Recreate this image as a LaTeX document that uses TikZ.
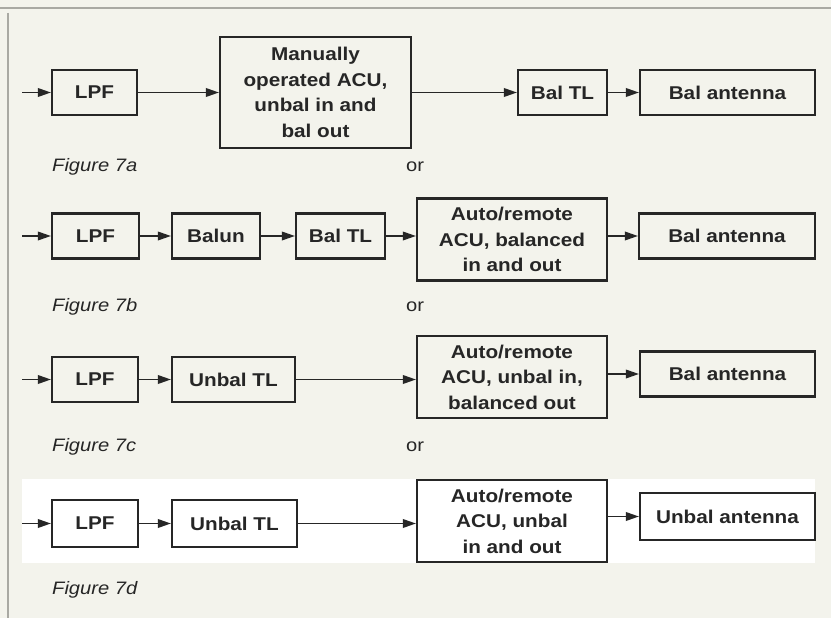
\documentclass[tikz,border=0pt]{standalone}
\usepackage{fontspec}
\usetikzlibrary{arrows.meta}
\newfontfamily\figfont[FakeStretch=1.12]{Liberation Sans}

\definecolor{figpaper}{HTML}{F3F3EC}
\definecolor{figink}{HTML}{262626}
\definecolor{figrule}{HTML}{A9A9A3}

\begin{document}
\begin{tikzpicture}[
  x=1pt, y=-1pt,
  blk/.style={rectangle, draw=figink, line width=2.1pt, fill=none,
              inner sep=0pt, minimum height=45pt, align=center,
              font=\figfont\bfseries\fontsize{18.5}{25.5}\selectfont, text=figink},
  acu/.style={blk, minimum width=190pt, minimum height=82pt},
  arr/.style={draw=figink, line width=1.8pt,
              -{Triangle[length=13pt, width=8.5pt]}},
  figlab/.style={anchor=west, inner sep=0pt, text=figink,
                 font=\figfont\itshape\fontsize{18}{20}\selectfont},
  orlab/.style={anchor=west, inner sep=0pt, text=figink,
                font=\figfont\fontsize{18}{20}\selectfont}]

  \useasboundingbox (0,0) rectangle (831,618);
  \fill[figpaper] (0,0) rectangle (831,618);
  \draw[figrule, line width=1.2pt] (0,8) -- (831,8);
  \draw[figrule, line width=1.2pt] (8,13) -- (8,618);

  % ---- figure 7a ---------------------------------------------------------
  \coordinate (inA) at (22,92.5);
  \node[blk, minimum width=85pt]  (lpfA)   at (94.5,92.5)  {LPF};
  \node[acu, minimum width=191pt, minimum height=111pt] (acuA) at (315.5,92.5)
    {Manually\\operated ACU,\\unbal in and\\bal out};
  \node[blk, minimum width=89pt]  (baltlA) at (562.5,92.5)  {Bal TL};
  \node[blk, minimum width=175pt] (antA)   at (727.5,92.5)  {Bal antenna};

  \draw[arr] (inA) -- (lpfA);
  \draw[arr] (lpfA) -- (acuA);
  \draw[arr] (acuA) -- (baltlA);
  \draw[arr] (baltlA) -- (antA);

  \node[figlab] (capA) at (52,167) {Figure 7a};
  \node[orlab]  (orA)  at (406,167) {or};

  % ---- figure 7b ---------------------------------------------------------
  \coordinate (inB) at (22,236);
  \node[blk, minimum width=87pt]  (lpfB)   at (95.5,236)  {LPF};
  \node[blk, minimum width=88pt]  (balunB) at (216,236)   {Balun};
  \node[blk, minimum width=89pt]  (baltlB) at (340.5,236) {Bal TL};
  \node[acu] (acuB) at (512,239.5) {Auto/remote\\ACU, balanced\\in and out};
  \node[blk, minimum width=176pt] (antB)   at (727,236)   {Bal antenna};

  \draw[arr] (inB) -- (lpfB);
  \draw[arr] (lpfB) -- (balunB);
  \draw[arr] (balunB) -- (baltlB);
  \draw[arr] (baltlB) -- (baltlB -| acuB.west);
  \draw[arr] (acuB.east |- antB.west) -- (antB);

  \node[figlab] (capB) at (52,307) {Figure 7b};
  \node[orlab]  (orB)  at (406,307) {or};

  % ---- figure 7c ---------------------------------------------------------
  \coordinate (inC) at (22,379.5);
  \node[blk, minimum width=86pt]  (lpfC) at (95,379.5)    {LPF};
  \node[blk, minimum width=123pt] (utlC) at (233.5,379.5) {Unbal TL};
  \node[acu] (acuC) at (512,377) {Auto/remote\\ACU, unbal in,\\balanced out};
  \node[blk, minimum width=175pt] (antC) at (727.5,374)   {Bal antenna};

  \draw[arr] (inC) -- (lpfC);
  \draw[arr] (lpfC) -- (utlC);
  \draw[arr] (utlC) -- (utlC -| acuC.west);
  \draw[arr] (acuC.east |- antC.west) -- (antC);

  \node[figlab] (capC) at (52,447) {Figure 7c};
  \node[orlab]  (orC)  at (406,447) {or};

  % ---- figure 7d ---------------------------------------------------------
  \fill[white] (22,479) rectangle (815,563);
  \coordinate (inD) at (22,523.5);
  \node[blk, minimum width=86pt, minimum height=47pt]  (lpfD) at (95,523.5)    {LPF};
  \node[blk, minimum width=125pt, minimum height=47pt] (utlD) at (234.5,523.5) {Unbal TL};
  \node[acu] (acuD) at (512,521) {Auto/remote\\ACU, unbal\\in and out};
  \node[blk, minimum width=175pt, minimum height=47pt] (antD) at (727.5,516.5) {Unbal antenna};

  \draw[arr] (inD) -- (lpfD);
  \draw[arr] (lpfD) -- (utlD);
  \draw[arr] (utlD) -- (utlD -| acuD.west);
  \draw[arr] (acuD.east |- antD.west) -- (antD);

  \node[figlab] (capD) at (52,590) {Figure 7d};
\end{tikzpicture}
\end{document}
